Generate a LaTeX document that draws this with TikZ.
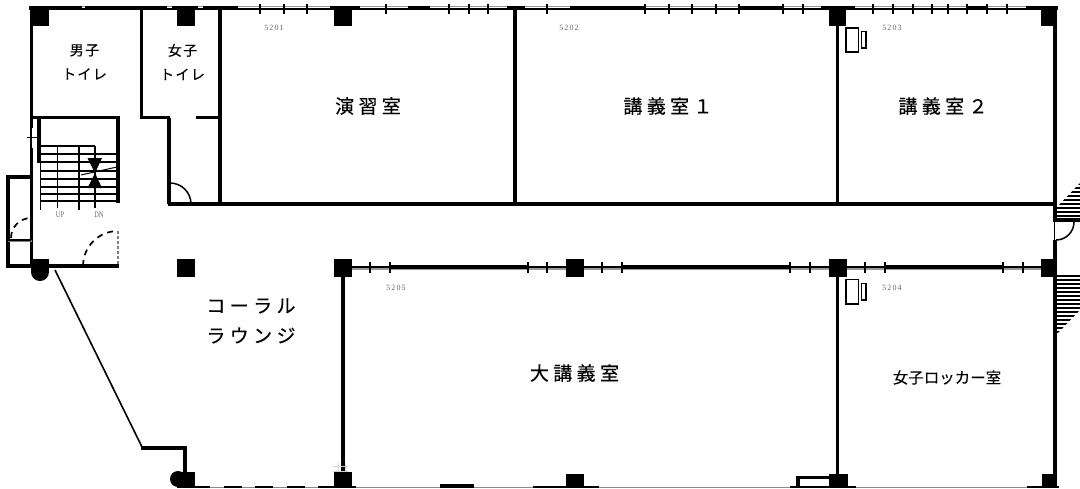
\documentclass[tikz,border=0pt]{standalone}
\usepackage{fontspec}
\setmainfont{Liberation Serif}
\newfontfamily\jpbig[LetterSpace=23,FakeBold=0.25]{Noto Sans CJK JP}
\newfontfamily\jpsmall[LetterSpace=10,FakeBold=0.2]{Noto Sans CJK JP}
\newfontfamily\jplock[FakeBold=0.2]{Noto Sans CJK JP}
\newfontfamily\numfont[LetterSpace=14]{Liberation Serif}
\tikzset{
  wall/.style={line width=3.5pt,line cap=butt},
  sash/.style={line width=3.5pt},
  glass/.style={line width=1.2pt,draw=black!40},
  pane/.style={line width=2pt},
  tick/.style={line width=1.5pt},
  pillar/.style={fill=black,draw=none},
  tread/.style={line width=2.5pt},
  thinline/.style={line width=1.2pt},
  swing/.style={line width=1.5pt},
  swingd/.style={line width=1.7pt,dash pattern=on 6pt off 5pt},
  biglabel/.style={inner sep=0pt,font=\jpbig\fontsize{19}{20}\selectfont,align=center},
  smalllabel/.style={inner sep=0pt,font=\jpsmall\fontsize{14}{24}\selectfont,align=center},
  roomno/.style={inner sep=0pt,text=black!60,font=\numfont\fontsize{8}{8}\selectfont},
  updn/.style={inner sep=0pt,text=black!60,xscale=.75,font=\fontsize{8.5}{8}\selectfont},
}
\begin{document}
\begin{tikzpicture}[x=1pt,y=-1pt]
\useasboundingbox (0,0) rectangle (1080,488);
\fill[white] (0,0) rectangle (1080,488);
% top exterior wall with windows
\draw[glass] (29,6.5) -- (1058,6.5);
\draw[pane] (29,8.5) -- (1058,8.5);
\foreach \a/\b in {29/82,85/167,172/198,203/238,330/360,408/430,507/525,570/645,739/783,821/855,967/987,1026/1058}
  \draw[sash] (\a,7.7) -- (\b,7.7);
\foreach \t in {260,284,307,386,449,469,488,547,645,669,692,716,739,783,803,873,893,913,932,948,967,987,1007}
  \draw[tick] (\t,3.5) -- (\t,13.5);
% corridor south wall with windows
\draw[glass] (343,269) -- (1050,269);
\draw[pane] (343,267) -- (1050,267);
\foreach \a/\b in {390/528,622/790,885/1003}
  \draw[wall,line width=3.8pt] (\a,267) -- (\b,267);
\foreach \t in {370,390,528,547,602,622,790,810,865,885,1003,1023}
  \draw[tick] (\t,262) -- (\t,273);
% bottom wall
\draw[line width=1.4pt,draw=black!45] (177,487.3) -- (1058,487.3);
\foreach \a/\b in {177/210,224/242,255/273,287/305,318/356,533/599,790/856,1027/1059}
  \draw[line width=2.4pt] (\a,486.8) -- (\b,486.8);
\fill (440,484) rectangle (474,488);
% main walls
\draw[wall] (31.5,7) -- (31.5,128);
\draw[wall] (31.5,148) -- (31.5,266);
\draw[wall,line width=1.4pt] (31,128) -- (31,148);
\draw[thinline] (27,137.5) -- (38,137.5);
\draw[wall] (141.5,7) -- (141.5,117.5) -- (170,117.5);
\draw[wall] (169,117.5) -- (169,204);
\draw[wall] (196,117.5) -- (220,117.5);
\draw[wall] (220,7) -- (220,206);
\draw[wall] (515,7) -- (515,206);
\draw[wall] (837.5,7) -- (837.5,205);
\draw[wall] (837.5,267) -- (837.5,480);
\draw[wall] (343,267) -- (343,480);
\draw[wall] (168,204) -- (1055,204);
\draw[wall,line width=3.8pt] (1055.3,7) -- (1055.3,222);
\draw[wall,line width=3.8pt] (1055.3,240) -- (1055.3,488);
\draw[line width=1pt] (1054.5,222) -- (1054.5,240);
% stair room
\draw[wall] (31,117.5) -- (118,117.5) -- (118,203);
\draw[wall] (39,117.5) -- (39,163);
\foreach \y in {154,162,171,179,187,194,201}
  \draw[tread] (40,\y) -- (117,\y);
\draw[tread] (40,146) -- (95,146);
\draw[line width=1.7pt] (40.5,163) -- (40.5,210);
\draw[line width=1.5pt] (57.5,146) -- (57.5,208);
\draw[line width=2.4pt] (79,146) -- (79,210);
\draw[line width=1.5pt] (95,146) -- (95,208);
\fill (87.5,158) -- (102,158) -- (95,173) -- cycle;
\fill (87.5,188) -- (102,188) -- (95,173) -- cycle;
\draw[line width=1pt] (81,175) -- (117,167);
\node[updn] (up) at (60,214.5) {UP};
\node[updn] (dn) at (99,214.5) {DN};
% west closet and lobby wall
\draw[wall] (31,177) -- (8,177) -- (8,266) -- (119,266);
\draw[line width=1.2pt,draw=black!50] (8,241) -- (32,241);
\draw[line width=1.7pt] (8,240) -- (31,240);
\draw[swingd] (11,238) arc[start angle=180,end angle=270,radius=20];
\draw[swingd] (83,266) arc[start angle=180,end angle=270,radius=35];
\draw[line width=1.6pt,draw=black!50,dash pattern=on 3pt off 2pt] (118,231) -- (118,266);
% pillars
\foreach \a/\b/\c/\d in {30/7/49/26,177/9/195/26,334/9/352/26,829/9/846/26,1041/9/1057/26,
  177/259/195/277,334/259/352/277,566/259/584/277,829/259/847/277,1041/259/1057/277,
  178/472/195/488,334/472/352/488,566/474/584/488,829/474/848/488,1042/474/1057/488,31/259/49/272}
  \fill[pillar] (\a,\b) rectangle (\c,\d);
\fill (40,272) circle[radius=9];
\fill (178,479) circle[radius=8];
% faint mark above pillar
\draw[line width=1pt,draw=black!18] (333,466) -- (348,466) (333,471) -- (348,471) (338,463) -- (338,472) (345,463) -- (345,472);
% SW lobby edge
\draw[line width=1.6pt] (55,270) -- (142,447);
\draw[wall] (141,448) -- (185,448) -- (185,474);
% door box on south wall
\draw[line width=3.5pt] (798,487) -- (798,477.5) -- (830,477.5);
% door swings
\draw[swing] (170,183) arc[start angle=270,end angle=360,radius=21];
\draw[swing] (1056,240) arc[start angle=90,end angle=0,radius=18];
% lockers
\draw[line width=1.6pt] (846,28) rectangle (858.5,52);
\draw[line width=1.6pt] (861.5,31.5) rectangle (866,48);
\draw[line width=1.6pt] (846,279.5) rectangle (858.5,304);
\draw[line width=1.6pt] (861.5,283.5) rectangle (866,300);
% east stairs hatch
\begin{scope}
\clip (1057,207) -- (1080,183) -- (1080,222) -- (1057,222) -- cycle;
\foreach \y in {184,188,...,220} \draw[line width=2pt] (1057,\y) -- (1080,\y);
\end{scope}
\fill (1053.5,218) rectangle (1080,222);
\begin{scope}
\clip (1057,275) -- (1080,275) -- (1080,310) -- (1057,334) -- cycle;
\foreach \y in {276,280,...,332} \draw[line width=2pt] (1057,\y) -- (1080,\y);
\end{scope}
% labels
\node[smalllabel] (wc1) at (84.5,62) {男子\\トイレ};
\node[smalllabel] (wc2) at (182.5,62) {女子\\トイレ};
\node[biglabel] (r1) at (368,106) {演習室};
\node[biglabel] (r2) at (668,106) {講義室１};
\node[biglabel] (r3) at (943,106) {講義室２};
\node[biglabel,align=center,font=\jpbig\fontsize{19}{30}\selectfont] (lounge) at (251,321) {コーラル\\ラウンジ};
\node[biglabel] (r5) at (574.5,373) {大講義室};
\node[inner sep=0pt,font=\jplock\fontsize{15.5}{16}\selectfont] (r4) at (947,377.5) {女子ロッカー室};
\node[roomno] (n1) at (274,28) {5201};
\node[roomno] (n2) at (569,28) {5202};
\node[roomno] (n3) at (892,28) {5203};
\node[roomno] (n4) at (892,288) {5204};
\node[roomno] (n5) at (396,288) {5205};
\end{tikzpicture}
\end{document}
